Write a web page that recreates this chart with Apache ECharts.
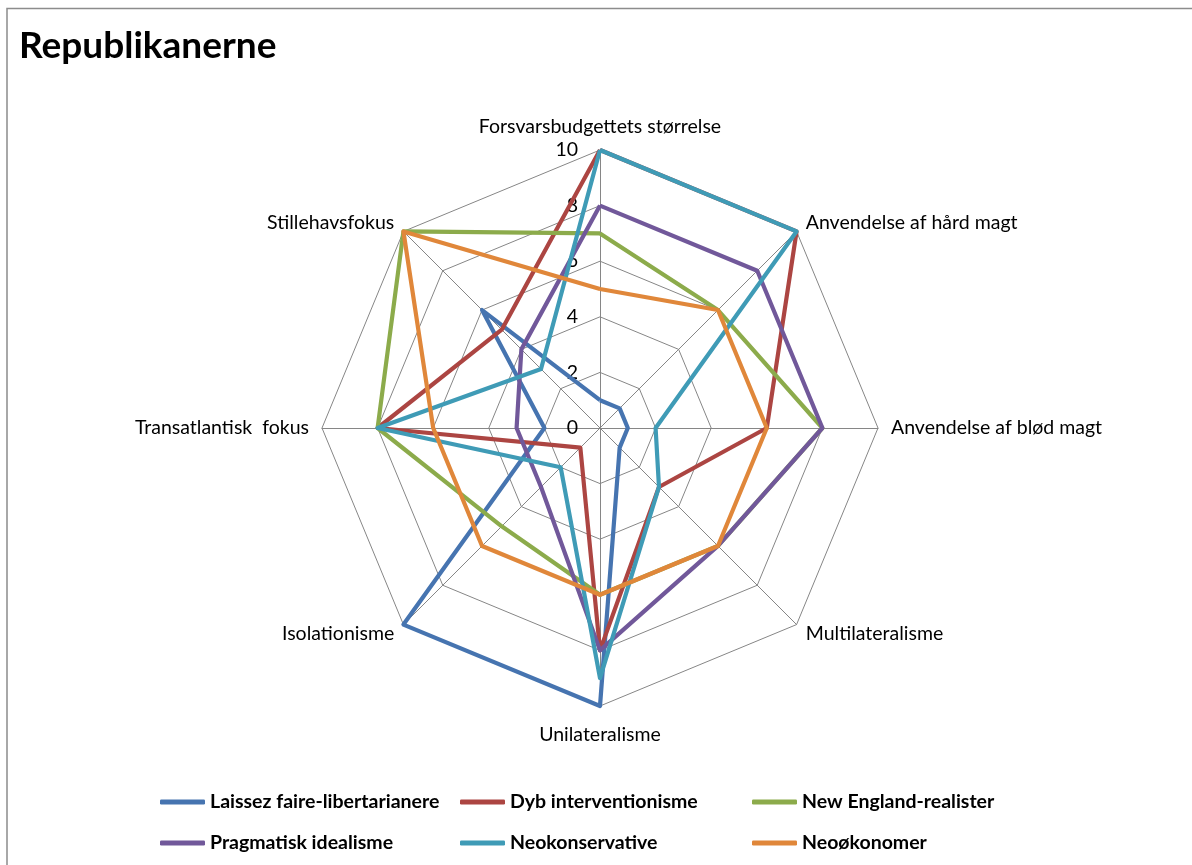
<!DOCTYPE html>
<html>
<head>
<meta charset="utf-8">
<script src="https://cdn.jsdelivr.net/npm/echarts@6/dist/echarts.min.js"></script>
<style>
  html, body { margin: 0; padding: 0; background: #fff; }
  #chart { width: 1192px; height: 865px; }
</style>
</head>
<body>
<div id="chart"></div>
<script>
// Axes in drawing order (counter-clockwise from the top)
const dimensions = [
  'Forsvarsbudgettets størrelse',
  'Stillehavsfokus',
  'Transatlantisk  fokus',
  'Isolationisme',
  'Unilateralisme',
  'Multilateralisme',
  'Anvendelse af blød magt',
  'Anvendelse af hård magt'
];

const seriesNames = [
  'Laissez faire-libertarianere',
  'Dyb interventionisme',
  'New England-realister',
  'Pragmatisk idealisme',
  'Neokonservative',
  'Neoøkonomer'
];

// Scores (0-10) per axis, same order as dimensions
const laissezFaire    = [1, 6, 2, 10, 10, 1, 1, 1];
const dybIntervent    = [10, 5, 8, 1, 8, 3, 6, 10];
const newEngland      = [7, 10, 8, 5, 6, 6, 8, 6];
const pragmatisk      = [8, 4, 3, 3, 8, 6, 8, 8];
const neokonservative = [10, 3, 8, 2, 9, 3, 2, 10];
const neookonomer     = [5, 10, 6, 6, 6, 6, 6, 6];

const seriesValues = [laissezFaire, dybIntervent, newEngland, pragmatisk, neokonservative, neookonomer];
const colors = ['#4674B0', '#AC4542', '#8CAB4B', '#71589A', '#3F9BB6', '#E0873A'];

const scaleMax = 10;
const font = 'Lato, "Open Sans", sans-serif';

const chart = echarts.init(document.getElementById('chart'), null, { renderer: 'canvas' });

const indicator = dimensions.map((name, i) => {
  const ind = { name: name, min: 0, max: scaleMax };
  if (i === 0) {
    // value labels only along the top axis
    ind.axisLabel = { show: true };
  }
  if (name === 'Unilateralisme') {
    ind.nameGap = 19;
  }
  return ind;
});

const legendStyle = {
  orient: 'vertical',
  top: 792,
  padding: 0,
  itemWidth: 45,
  itemHeight: 5,
  itemGap: 21,
  icon: 'roundRect',
  textStyle: { fontFamily: font, fontSize: 19.5, fontWeight: 'bold', color: '#000' }
};

chart.setOption({
  animation: false,
  color: colors,
  title: {
    text: 'Republikanerne',
    left: 14,
    top: 23,
    textStyle: { fontFamily: font, fontSize: 37, fontWeight: 'bold', color: '#000' }
  },
  graphic: [{
    type: 'rect',
    shape: { x: 7, y: 8.5, width: 1400, height: 1000 },
    style: { fill: 'none', stroke: '#8c8c8c', lineWidth: 1.5 },
    silent: true
  }],
  legend: [
    Object.assign({ left: 160, data: [seriesNames[0], seriesNames[3]] }, legendStyle),
    Object.assign({ left: 460, data: [seriesNames[1], seriesNames[4]] }, legendStyle),
    Object.assign({ left: 752, data: [seriesNames[2], seriesNames[5]] }, legendStyle)
  ],
  radar: {
    center: [600, 428],
    radius: 278,
    startAngle: 90,
    splitNumber: 5,
    shape: 'polygon',
    nameGap: 13,
    axisName: { color: '#000', fontFamily: font, fontSize: 19.5 },
    axisLine: { show: true, lineStyle: { color: '#868686', width: 1 } },
    splitLine: { show: true, lineStyle: { color: '#868686', width: 1 } },
    splitArea: { show: false },
    axisTick: { show: false },
    axisLabel: { show: false, color: '#000', fontFamily: font, fontSize: 19.5, margin: 22 },
    indicator: indicator
  },
  series: seriesNames.map((name, i) => ({
    name: name,
    type: 'radar',
    symbol: 'none',
    lineStyle: { width: 4.2, color: colors[i], join: 'round' },
    itemStyle: { color: colors[i] },
    data: [{ name: name, value: seriesValues[i] }]
  }))
});
</script>
</body>
</html>
